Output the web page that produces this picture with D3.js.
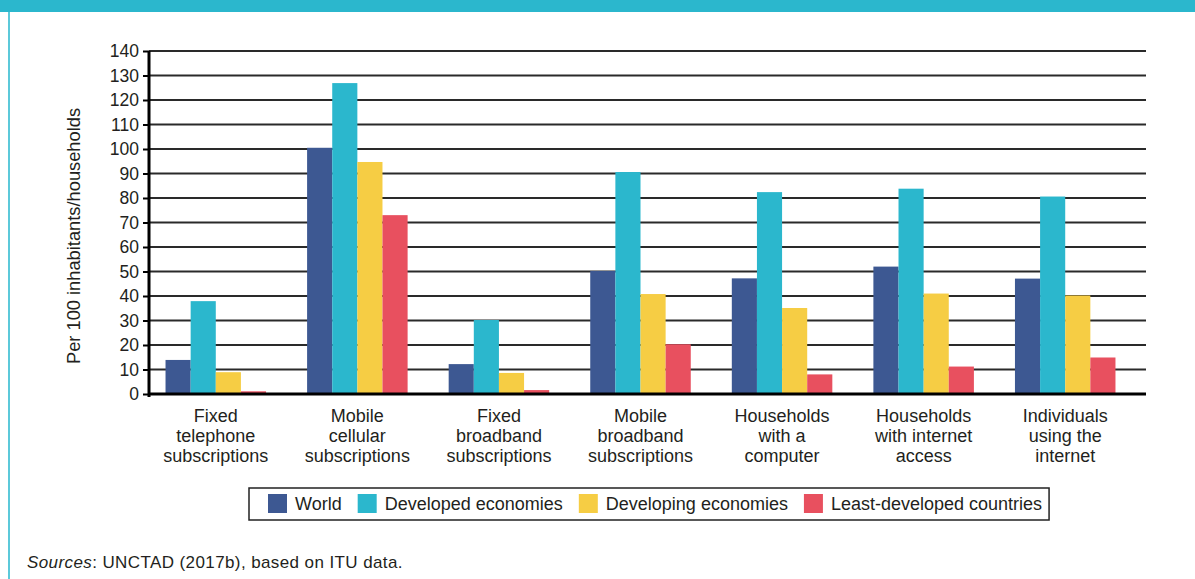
<!DOCTYPE html>
<html><head><meta charset="utf-8">
<script src="https://cdn.jsdelivr.net/npm/d3@7"></script>
<style>
html,body{margin:0;padding:0;background:#fff;}
svg{display:block;font-family:"Liberation Sans",Arial,Helvetica,sans-serif;}
</style></head>
<body><svg id="c" width="1195" height="579"></svg>
<script>
const categories = [
  ["Fixed","telephone","subscriptions"],
  ["Mobile","cellular","subscriptions"],
  ["Fixed","broadband","subscriptions"],
  ["Mobile","broadband","subscriptions"],
  ["Households","with a","computer"],
  ["Households","with internet","access"],
  ["Individuals","using the","internet"]
];
const seriesNames = ["World","Developed economies","Developing economies","Least-developed countries"];
const seriesColors = ["#3d5892","#2bb7cd","#f6cd44","#e8505f"];
const world      = [13.9, 100.5, 12.2, 50.2, 47.2, 52.0, 47.1];
const developed  = [37.9, 126.9, 30.2, 90.6, 82.4, 83.8, 80.6];
const developing = [8.9, 94.7, 8.6, 40.8, 35.1, 41.0, 40.2];
const ldc        = [1.1, 73.0, 1.6, 20.3, 8.0, 11.2, 14.9];
const yTicks = [0,10,20,30,40,50,60,70,80,90,100,110,120,130,140];
const yTitle = "Per 100 inhabitants/households";
const sourceItalic = "Sources";
const sourceRest = ": UNCTAD (2017b), based on ITU data.";

const seriesValues = [world, developed, developing, ldc];
const svg = d3.select("#c");
const textColor = "#231f20";

// frame
svg.append("rect").attr("x",0).attr("y",0).attr("width",1195).attr("height",12).attr("fill","#2bb7cd");
svg.append("rect").attr("x",8).attr("y",12).attr("width",2).attr("height",567).attr("fill","#5cc9da");

const catIdx = categories.map((d,i)=>i);
const x0 = d3.scaleBand().domain(catIdx).range([145,1136]).paddingInner(0.29).paddingOuter(0.145);
const x1 = d3.scaleBand().domain(d3.range(seriesNames.length)).range([0,x0.bandwidth()]);
const y = d3.scaleLinear().domain([0,140]).range([394,51]);
const axisLeft = 149, axisRight = 1146;

// gridlines
svg.append("g").selectAll("line").data(yTicks.filter(t=>t>0)).join("line")
  .attr("x1",axisLeft).attr("x2",axisRight)
  .attr("y1",d=>y(d)).attr("y2",d=>y(d))
  .attr("stroke","#2a2a2a").attr("stroke-width",2);

// bars
const groups = svg.append("g").selectAll("g").data(catIdx).join("g")
  .attr("transform",d=>`translate(${x0(d)},0)`);
groups.selectAll("rect").data(ci=>seriesValues.map((s,si)=>({si,v:s[ci]}))).join("rect")
  .attr("x",d=>x1(d.si)).attr("width",x1.bandwidth())
  .attr("y",d=>y(d.v)).attr("height",d=>y(0)-y(d.v))
  .attr("fill",d=>seriesColors[d.si]);

// y axis
const yAxis = d3.axisLeft(y).tickValues(yTicks).tickSize(6).tickPadding(4);
const ya = svg.append("g").attr("transform",`translate(${axisLeft},0)`).call(yAxis);
ya.select(".domain").attr("stroke","#000").attr("stroke-width",3).attr("d",`M0,${y(140)}V${y(0)+3}`);
ya.selectAll(".tick line").attr("stroke","#000").attr("stroke-width",2);
ya.selectAll(".tick text").attr("font-size","17.5px").attr("fill",textColor).attr("font-family","'Liberation Sans',Arial,sans-serif");

// baseline
svg.append("line").attr("x1",axisLeft-1).attr("x2",axisRight).attr("y1",y(0)).attr("y2",y(0))
  .attr("stroke","#000").attr("stroke-width",3);

// category labels
const cl = svg.append("g").selectAll("text").data(catIdx).join("text")
  .attr("text-anchor","middle").attr("font-size","18px").attr("fill",textColor)
  .attr("x",d=>x0(d)+x0.bandwidth()/2).attr("y",422);
cl.selectAll("tspan").data(d=>categories[d]).join("tspan")
  .attr("x",function(){return this.parentNode.getAttribute("x");})
  .attr("dy",(d,i)=>i===0?0:20).text(d=>d);

// y title
svg.append("text").attr("transform","translate(80,236) rotate(-90)")
  .attr("text-anchor","middle").attr("font-size","18.3px").attr("fill",textColor).text(yTitle);

// legend
const lg = svg.append("g");
let lx = 268;
seriesNames.forEach((n,i)=>{
  lg.append("rect").attr("x",lx).attr("y",494).attr("width",19).attr("height",19).attr("fill",seriesColors[i]);
  const t = lg.append("text").attr("x",lx+27).attr("y",510).attr("font-size","18px").attr("fill",textColor).text(n);
  lx += 27 + t.node().getComputedTextLength() + 16;
});
lg.insert("rect",":first-child").attr("x",249).attr("y",488).attr("width",lx-16+7-249).attr("height",32)
  .attr("fill","none").attr("stroke","#222").attr("stroke-width",1.5);

// sources
const st = svg.append("text").attr("x",27).attr("y",568).attr("font-size","17px")
  .attr("letter-spacing","0.4px").attr("fill",textColor);
st.append("tspan").attr("font-style","italic").text(sourceItalic);
st.append("tspan").text(sourceRest);
</script></body></html>
